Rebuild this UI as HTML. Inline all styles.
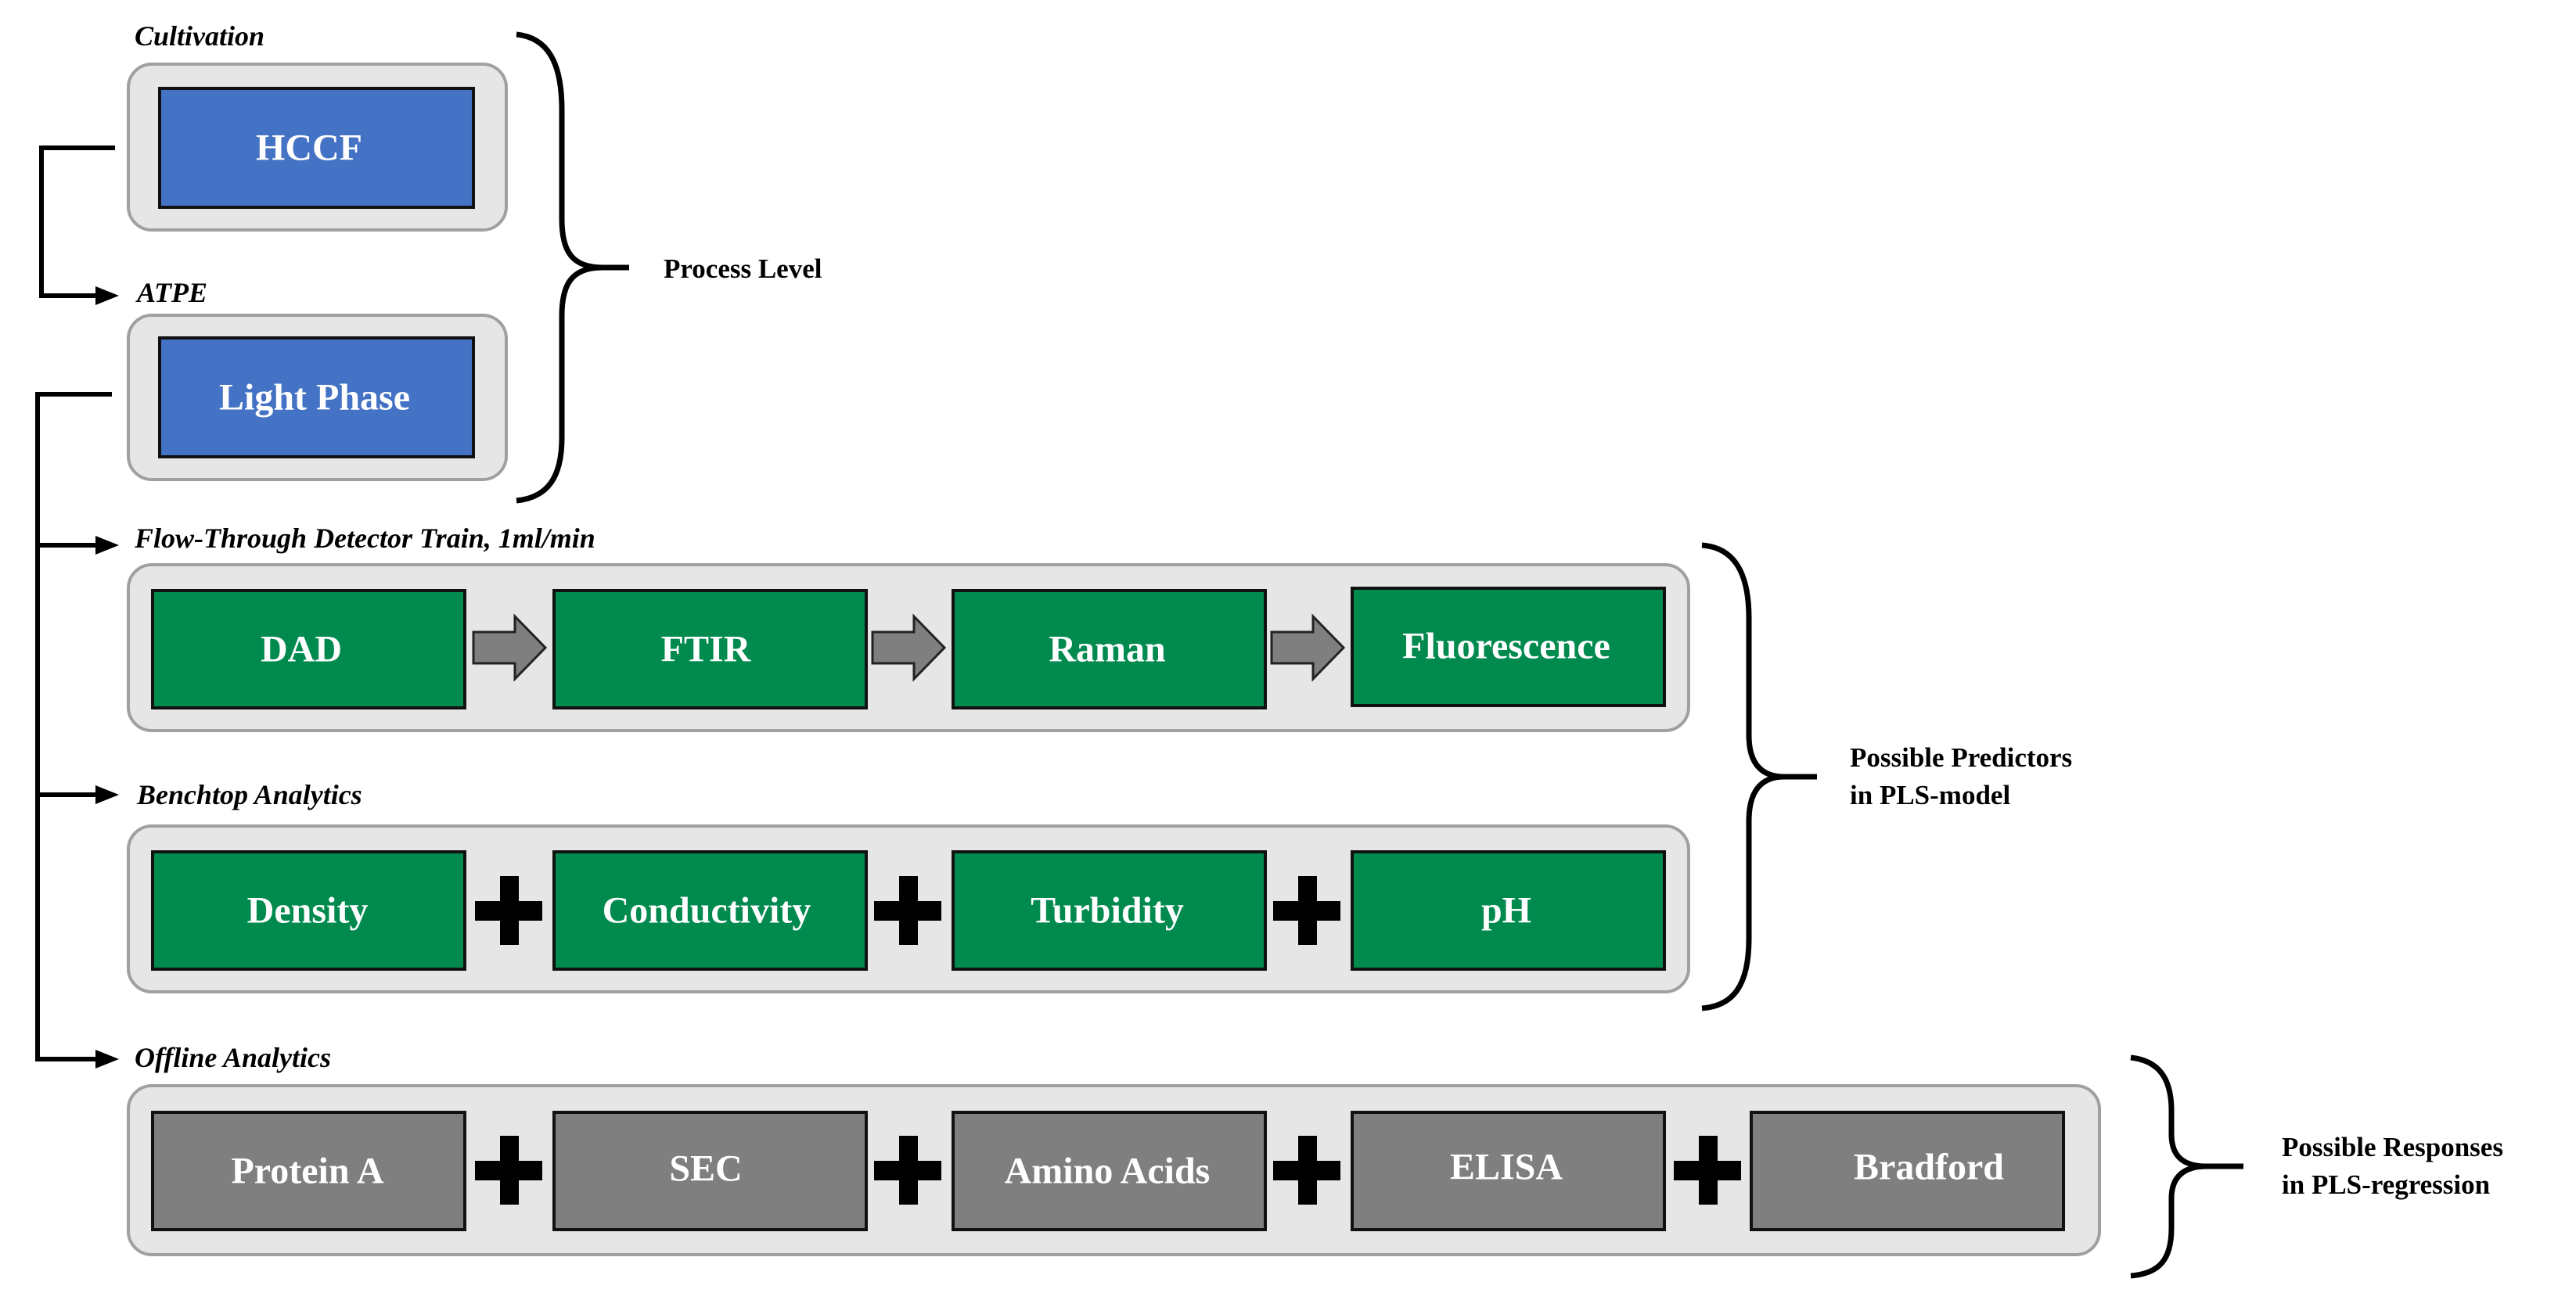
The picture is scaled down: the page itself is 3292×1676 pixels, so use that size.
<!DOCTYPE html>
<html><head><meta charset="utf-8"><style>
html,body{margin:0;padding:0;background:#fff;width:3292px;height:1676px;overflow:hidden}
svg text{font-family:"Liberation Serif",serif;font-weight:bold}
.bt{fill:#fff;font-size:48px;text-anchor:middle;dominant-baseline:central}
.it{font-style:italic;font-size:36px;fill:#000}
.lb{font-size:35px;fill:#000}
</style></head><body>
<svg width="3292" height="1676" viewBox="0 0 3292 1676" xmlns="http://www.w3.org/2000/svg">
<g fill="none" stroke="#000" stroke-width="6">
<path d="M147,189 H53 V378 H125"/>
<path d="M143,504 H48 V1354 H125"/>
<path d="M48,697 H125"/>
<path d="M48,1016 H125"/>
</g>
<g fill="#000">
<path d="M122,366 L152,378 L122,390z"/>
<path d="M122,685 L152,697 L122,709z"/>
<path d="M122,1004 L152,1016 L122,1028z"/>
<path d="M122,1342 L152,1354 L122,1366z"/>
</g>
<text class="it" x="172" y="58">Cultivation</text>
<text class="it" x="175" y="386">ATPE</text>
<text class="it" x="172" y="700">Flow-Through Detector Train, 1ml/min</text>
<text class="it" x="175" y="1028">Benchtop Analytics</text>
<text class="it" x="172" y="1364">Offline Analytics</text>
<g fill="#e6e6e6" stroke="#a0a0a0" stroke-width="4">
<rect x="164" y="82" width="483" height="212" rx="30"/>
<rect x="164" y="403" width="483" height="210" rx="30"/>
<rect x="164" y="722" width="1994" height="212" rx="30"/>
<rect x="164" y="1056" width="1994" height="212" rx="30"/>
<rect x="164" y="1388" width="2519" height="216" rx="30"/>
</g>
<g stroke="#111" stroke-width="4">
<rect x="204" y="113" width="401" height="152" fill="#4472c4"/>
<rect x="204" y="432" width="401" height="152" fill="#4472c4"/>
<rect x="195" y="755" width="399" height="150" fill="#008a4e"/>
<rect x="708" y="755" width="399" height="150" fill="#008a4e"/>
<rect x="1218" y="755" width="399" height="150" fill="#008a4e"/>
<rect x="1728" y="752" width="399" height="150" fill="#008a4e"/>
<rect x="195" y="1089" width="399" height="150" fill="#008a4e"/>
<rect x="708" y="1089" width="399" height="150" fill="#008a4e"/>
<rect x="1218" y="1089" width="399" height="150" fill="#008a4e"/>
<rect x="1728" y="1089" width="399" height="150" fill="#008a4e"/>
<rect x="195" y="1422" width="399" height="150" fill="#7f7f7f"/>
<rect x="708" y="1422" width="399" height="150" fill="#7f7f7f"/>
<rect x="1218" y="1422" width="399" height="150" fill="#7f7f7f"/>
<rect x="1728" y="1422" width="399" height="150" fill="#7f7f7f"/>
<rect x="2238" y="1422" width="399" height="150" fill="#7f7f7f"/>
</g>
<g fill="#7f7f7f" stroke="#222" stroke-width="3">
<path d="M605,808 H658 V788 L697,828 L658,868 V848 H605z"/>
<path d="M1115,808 H1168 V788 L1207,828 L1168,868 V848 H1115z"/>
<path d="M1625,808 H1678 V788 L1717,828 L1678,868 V848 H1625z"/>
</g>
<g fill="#000">
<path id="pl" d="M639,1120 h24 v32 h30 v25 h-30 v31 h-24 v-31 h-32 v-25 h32z"/>
<use href="#pl" x="510"/><use href="#pl" x="1020"/>
<use href="#pl" y="332"/><use href="#pl" x="510" y="332"/><use href="#pl" x="1020" y="332"/><use href="#pl" x="1532" y="332"/>
</g>
<text class="bt" x="395" y="189">HCCF</text>
<text class="bt" x="402" y="508">Light Phase</text>
<text class="bt" x="385" y="830">DAD</text>
<text class="bt" x="902" y="830">FTIR</text>
<text class="bt" x="1415" y="830">Raman</text>
<text class="bt" x="1925" y="826">Fluorescence</text>
<text class="bt" x="393" y="1164">Density</text>
<text class="bt" x="903" y="1164">Conductivity</text>
<text class="bt" x="1415" y="1164">Turbidity</text>
<text class="bt" x="1925" y="1164">pH</text>
<text class="bt" x="393" y="1497">Protein A</text>
<text class="bt" x="902" y="1494">SEC</text>
<text class="bt" x="1415" y="1497">Amino Acids</text>
<text class="bt" x="1925" y="1492">ELISA</text>
<text class="bt" x="2465" y="1492">Bradford</text>
<g fill="none" stroke="#000" stroke-width="7">
<path d="M660,44 C700,48 718,80 718,140 V280 C718,320 730,342 770,342 H804 M770,342 C730,342 718,364 718,404 V560 C718,610 700,636 660,640"/>
<path d="M2175,697 C2215,700 2235,730 2235,790 V940 C2235,975 2250,993 2280,993 H2322 M2280,993 C2250,993 2235,1012 2235,1050 V1200 C2235,1260 2215,1286 2175,1289"/>
<path d="M2723,1352 C2760,1356 2775,1380 2775,1420 V1450 C2775,1478 2790,1491 2820,1491 H2867 M2820,1491 C2790,1491 2775,1505 2775,1532 V1570 C2775,1610 2760,1628 2723,1631"/>
</g>
<text class="lb" x="848" y="355">Process Level</text>
<text class="lb" x="2364" y="980">Possible Predictors</text>
<text class="lb" x="2364" y="1028">in PLS-model</text>
<text class="lb" x="2916" y="1478">Possible Responses</text>
<text class="lb" x="2916" y="1526">in PLS-regression</text>
</svg>
</body></html>
